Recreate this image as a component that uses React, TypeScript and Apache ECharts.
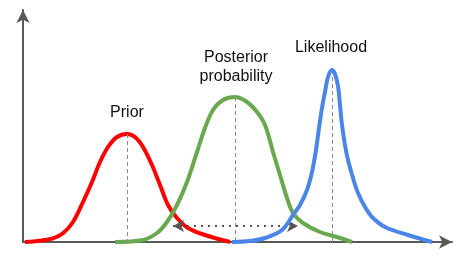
import React, { useEffect, useRef } from "react";
import * as echarts from "echarts";

// Curves: [x, density] pairs (arbitrary units)
const priorCurve: [number, number][] = [
  [2, 0], [17, 1.3], [30, 3.7], [40, 8.7], [50, 20], [60, 40], [69, 60], [77, 80],
  [85, 95], [94, 105], [104, 108], [112, 105], [120, 95], [129, 77], [137, 57],
  [145, 37], [154, 24], [165, 14], [182, 7], [207, 0],
];
const posteriorCurve: [number, number][] = [
  [92, 0], [120, 2], [134, 9], [144, 20], [154, 37], [164, 60], [174, 90], [182, 114],
  [190, 132], [200, 142], [212, 145], [224, 140], [234, 130], [242, 117], [250, 90],
  [257, 67], [264, 44], [270, 29], [280, 19], [297, 10], [314, 5], [329, 0],
];
const likelihoodCurve: [number, number][] = [
  [209, 0], [227, 1], [242, 4], [259, 12], [270, 27], [277, 37], [284, 52], [289, 70],
  [293, 92], [296, 114], [299, 134], [302, 150], [305, 165], [309, 172], [312, 168],
  [315, 156], [317, 137], [319, 117], [322, 97], [325, 82], [330, 64], [335, 49],
  [342, 35], [349, 25], [362, 15], [385, 7], [409, 0],
];
// Peaks (x, height) for the dashed drop lines
const priorPeak: [number, number] = [104, 108];
const posteriorPeak: [number, number] = [212, 145];
const likelihoodPeak: [number, number] = [309, 172];
// Double arrow between prior and likelihood (x range and height)
const shiftArrow: [number, number][] = [[150, 16], [275, 16]];

const labels = ["Prior", "Posterior\nprobability", "Likelihood"];

const X_MAX = 429;
const Y_MAX = 232;

export default function App() {
  const ref = useRef<HTMLDivElement>(null);
  useEffect(() => {
    if (!ref.current) return;
    const chart = echarts.init(ref.current, undefined, { renderer: "svg" });
    const axisColor = "#595959";
    const dropLine = (peak: [number, number]) => ({
      silent: true,
      symbol: "none",
      label: { show: false },
      lineStyle: { color: "#8a8a8a", width: 1, type: [4, 3] },
      data: [[{ coord: peak }, { coord: [peak[0], 0] }]],
    });
    const font = "'Liberation Sans', Arial, sans-serif";
    chart.setOption({
      animation: false,
      grid: { left: 23, right: 8, top: 10, bottom: 17 },
      xAxis: {
        type: "value",
        min: 0,
        max: X_MAX,
        axisLine: {
          show: true,
          symbol: ["none", "arrow"],
          symbolSize: [10, 13],
          lineStyle: { color: axisColor, width: 2 },
        },
        axisTick: { show: false },
        axisLabel: { show: false },
        splitLine: { show: false },
      },
      yAxis: {
        type: "value",
        min: 0,
        max: Y_MAX,
        axisLine: {
          show: true,
          symbol: ["none", "arrow"],
          symbolSize: [10, 13],
          lineStyle: { color: axisColor, width: 2 },
        },
        axisTick: { show: false },
        axisLabel: { show: false },
        splitLine: { show: false },
      },
      series: [
        {
          type: "line",
          data: priorCurve,
          smooth: 0.35,
          showSymbol: false,
          lineStyle: { color: "#ff0000", width: 4 },
          itemStyle: { color: "#ff0000" },
          markLine: dropLine(priorPeak),
          z: 3,
        },
        {
          type: "line",
          data: posteriorCurve,
          smooth: 0.35,
          showSymbol: false,
          lineStyle: { color: "#6aa84f", width: 4 },
          itemStyle: { color: "#6aa84f" },
          markLine: dropLine(posteriorPeak),
          z: 4,
        },
        {
          type: "line",
          data: likelihoodCurve,
          smooth: 0.35,
          showSymbol: false,
          lineStyle: { color: "#4a86e8", width: 4 },
          itemStyle: { color: "#4a86e8" },
          markLine: dropLine(likelihoodPeak),
          z: 5,
        },
        {
          type: "line",
          data: [],
          markLine: {
            silent: true,
            symbol: ["arrow", "arrow"],
            symbolSize: [9, 11],
            label: { show: false },
            lineStyle: { color: "#555555", width: 2, type: [2, 5] },
            itemStyle: { color: "#555555" },
            data: [[{ coord: shiftArrow[0] }, { coord: shiftArrow[1] }]],
          },
          z: 6,
        },
      ],
      graphic: [
        {
          type: "text",
          x: 127,
          y: 111,
          style: { text: labels[0], font: `16px ${font}`, fill: "#111", align: "center", verticalAlign: "middle" },
        },
        {
          type: "text",
          x: 236,
          y: 66,
          style: { text: labels[1], font: `16px ${font}`, lineHeight: 19, fill: "#111", align: "center", verticalAlign: "middle" },
        },
        {
          type: "text",
          x: 331,
          y: 46,
          style: { text: labels[2], font: `16px ${font}`, fill: "#111", align: "center", verticalAlign: "middle" },
        },
      ],
    });
    return () => chart.dispose();
  }, []);
  return <div ref={ref} style={{ position: "fixed", left: 0, top: 0, width: 460, height: 259 }} />;
}
